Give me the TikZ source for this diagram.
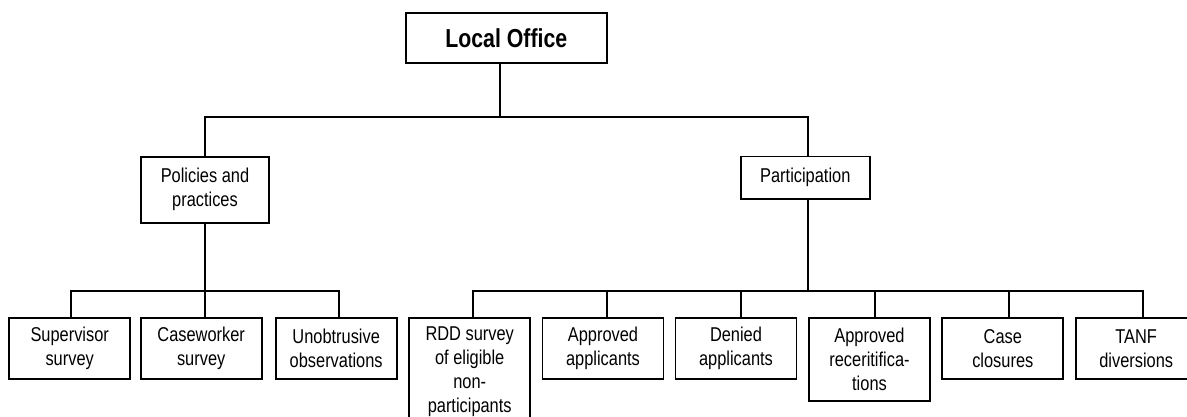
\documentclass[tikz,border=0pt]{standalone}
\usepackage{fontspec}
\setmainfont[FakeStretch=0.82]{Liberation Sans}
\begin{document}
\begin{tikzpicture}[x=1pt,y=-1pt,
  box/.style={draw, line width=1.7pt, align=center, inner sep=1pt,
    font=\fontsize{20}{24}\selectfont},
  bot/.style={box, minimum width=121pt, minimum height=61.3pt},
  conn/.style={line width=1.7pt}]
\useasboundingbox (0,0) rectangle (1187,417);
\clip (0,0) rectangle (1187,417);
% top levels
\node[box, minimum width=201pt, minimum height=50pt,
  font=\fontsize{26}{30}\selectfont\bfseries] (lo) at (506.3,37.8) {Local Office};
\node[box, minimum width=128.6pt, minimum height=66pt] (pol) at (205,189.7) {Policies and\\practices};
\node[box, minimum width=129.3pt, minimum height=42.3pt] (par) at (805.3,177.8) {Participation};
% bottom row
\node[bot] (sup) at (69.7,348.35) {Supervisor\\survey};
\node[bot] (cas) at (201.2,348.35) {Caseworker\\survey};
\node[bot] (uno) at (336.2,348.35) {Unobtrusive\\observations};
\node[bot, minimum height=107pt] (rdd) at (469.7,371.2) {RDD survey\\of eligible\\non-\\participants};
\node[bot] (app) at (603,348.35) {Approved\\applicants};
\node[bot] (den) at (736,348.35) {Denied\\applicants};
\node[bot, minimum height=83pt] (rec) at (869.5,359.2) {Approved\\receritifica-\\tions};
\node[bot] (clo) at (1002.8,348.35) {Case\\closures};
\node[bot] (tanf) at (1136.2,348.35) {TANF\\diversions};
% bus coordinates
\coordinate (t0) at (500,117);
\coordinate (tl) at (205,117);
\coordinate (tr) at (808,117);
\coordinate (l1) at (71,291);
\coordinate (l2) at (205,291);
\coordinate (l3) at (339,291);
\coordinate (r1) at (472.7,291);
\coordinate (r2) at (606.7,291);
\coordinate (r3) at (740.7,291);
\coordinate (r4) at (808,291);
\coordinate (r5) at (875,291);
\coordinate (r6) at (1009,291);
\coordinate (r7) at (1143.3,291);
% connectors
\draw[conn] (lo.south -| t0) -- (t0);
\draw[conn] (pol.north -| tl) |- (tr) -- (par.north -| tr);
\draw[conn] (pol.south -| l2) -- (l2);
\draw[conn] (sup.north -| l1) |- (l3) -- (uno.north -| l3);
\draw[conn] (cas.north -| l2) -- (l2);
\draw[conn] (par.south -| r4) -- (r4);
\draw[conn] (rdd.north -| r1) |- (r7) -- (tanf.north -| r7);
\draw[conn] (app.north -| r2) -- (r2);
\draw[conn] (den.north -| r3) -- (r3);
\draw[conn] (rec.north -| r5) -- (r5);
\draw[conn] (clo.north -| r6) -- (r6);
\end{tikzpicture}
\end{document}
